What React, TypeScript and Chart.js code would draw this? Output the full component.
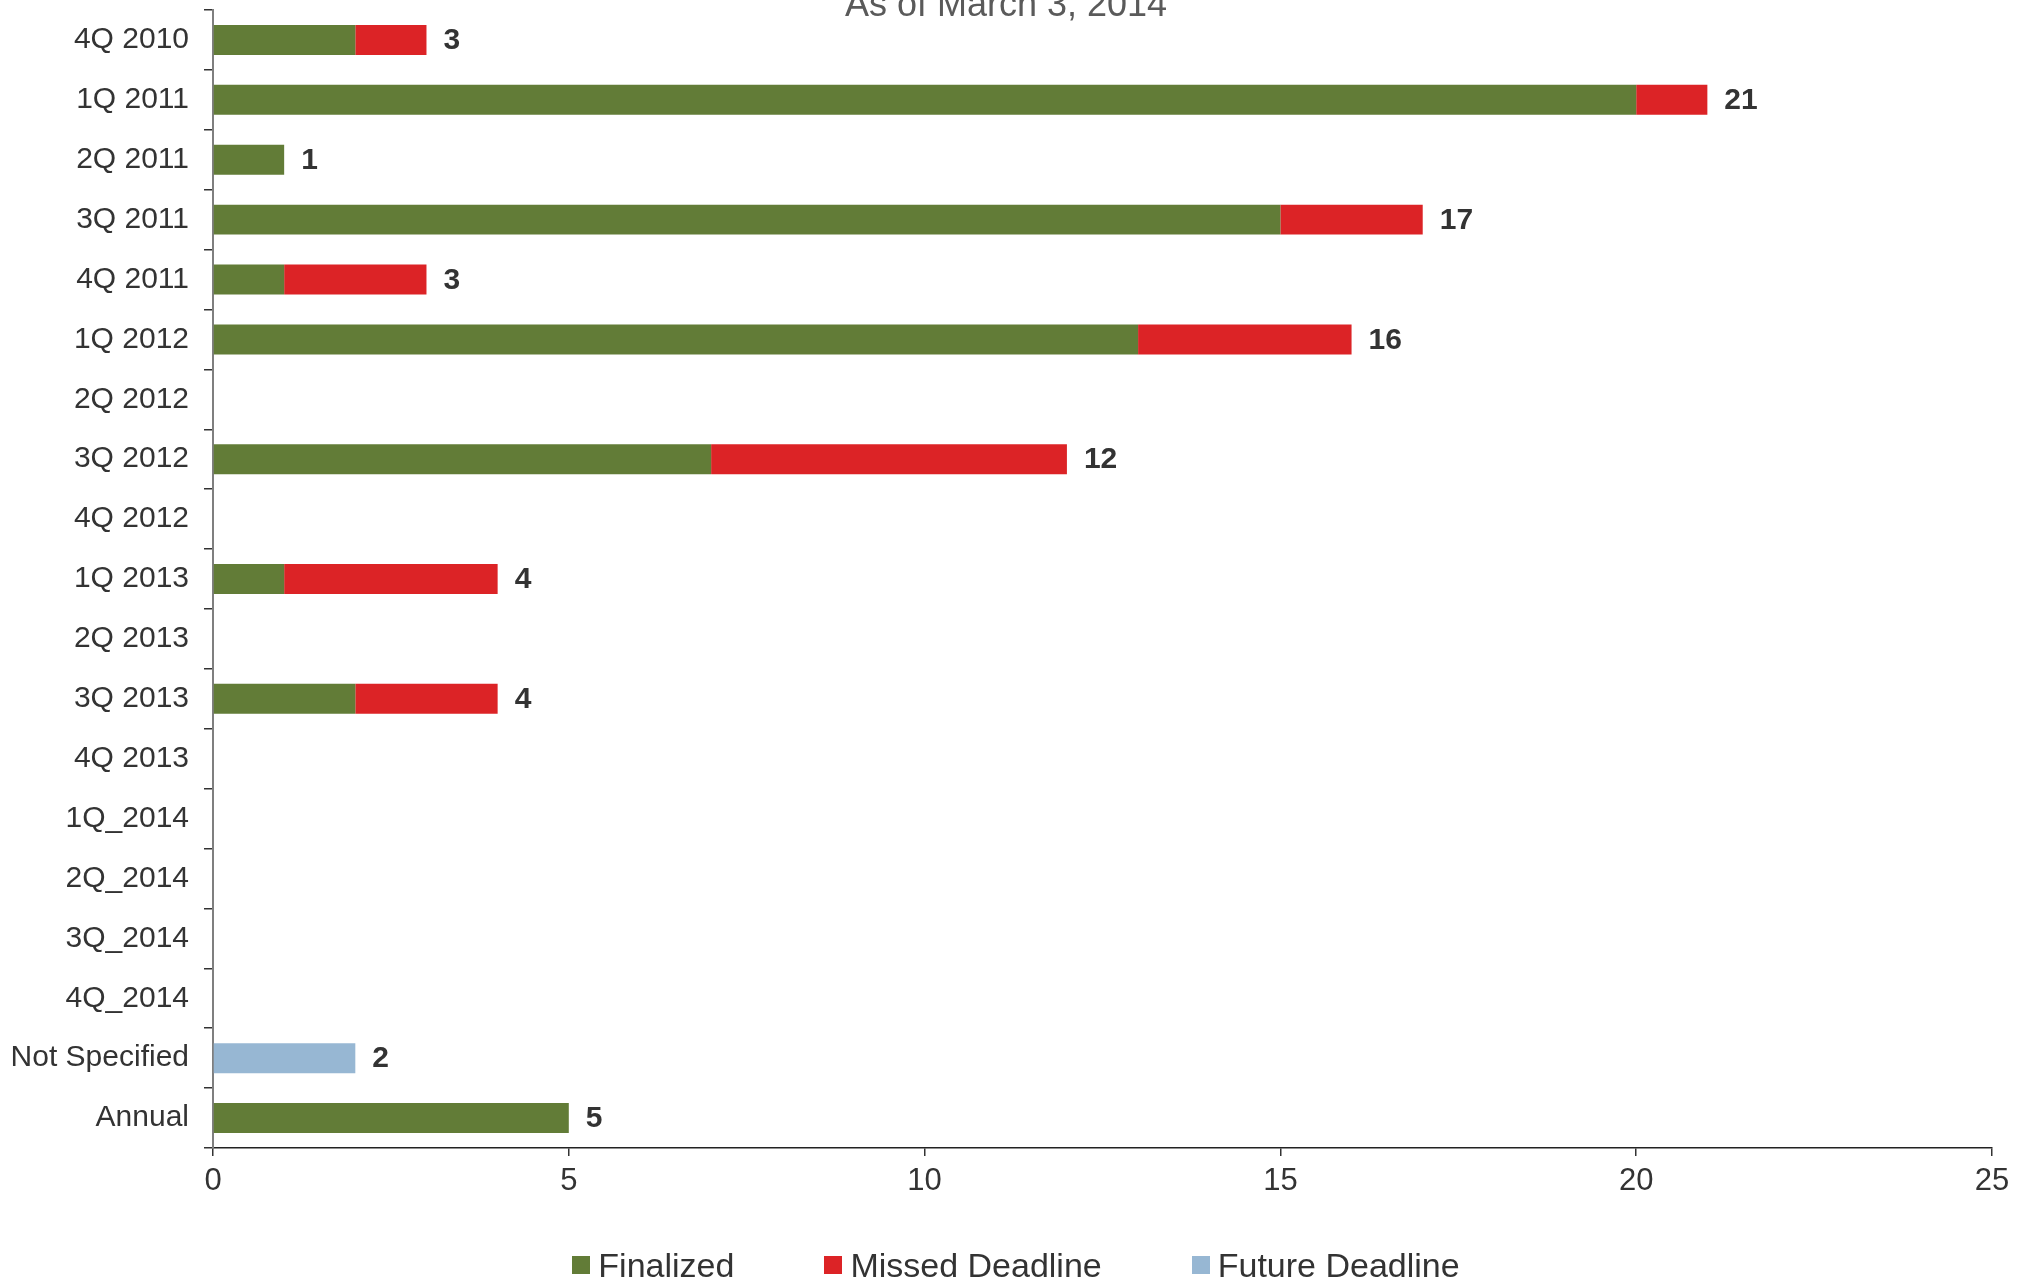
import React, { useEffect, useRef } from "react";
import { Chart, registerables } from "chart.js";

Chart.register(...registerables);

const categories = [
  "4Q 2010", "1Q 2011", "2Q 2011", "3Q 2011", "4Q 2011", "1Q 2012", "2Q 2012",
  "3Q 2012", "4Q 2012", "1Q 2013", "2Q 2013", "3Q 2013", "4Q 2013", "1Q_2014",
  "2Q_2014", "3Q_2014", "4Q_2014", "Not Specified", "Annual",
];
const finalized = [2, 20, 1, 15, 1, 13, 0, 7, 0, 1, 0, 2, 0, 0, 0, 0, 0, 0, 5];
const missedDeadline = [1, 1, 0, 2, 2, 3, 0, 5, 0, 3, 0, 2, 0, 0, 0, 0, 0, 0, 0];
const futureDeadline = [0, 0, 0, 0, 0, 0, 0, 0, 0, 0, 0, 0, 0, 0, 0, 0, 0, 2, 0];
const seriesNames = ["Finalized", "Missed Deadline", "Future Deadline"];
const seriesColors = ["#627C37", "#DC2326", "#97B7D3"];
const xTicks = [0, 5, 10, 15, 20, 25];
const titleText = "As of March 3, 2014";

const FONT = "'Liberation Sans', Arial, Helvetica, sans-serif";

const totalsPlugin = {
  id: "totals",
  afterDatasetsDraw(chart: any) {
    const { ctx, scales } = chart;
    const xs = scales.x;
    const ys = scales.y;
    ctx.save();
    ctx.font = `bold 30px ${FONT}`;
    ctx.fillStyle = "#333333";
    ctx.textAlign = "left";
    ctx.textBaseline = "middle";
    categories.forEach((_, i) => {
      const total = chart.data.datasets.reduce(
        (s: number, d: any) => s + (Number(d.data[i]) || 0),
        0
      );
      if (total > 0) {
        ctx.fillText(String(total), xs.getPixelForValue(total) + 17, ys.getPixelForValue(i) + 1);
      }
    });
    ctx.restore();
  },
};

const titlePlugin = {
  id: "cutTitle",
  afterDraw(chart: any) {
    const { ctx } = chart;
    ctx.save();
    ctx.font = `36px ${FONT}`;
    ctx.fillStyle = "#5A5A5A";
    ctx.textAlign = "center";
    ctx.textBaseline = "alphabetic";
    ctx.fillText(titleText, 1006, 16);
    ctx.restore();
  },
};

export default function App() {
  const canvasRef = useRef<HTMLCanvasElement | null>(null);

  useEffect(() => {
    if (!canvasRef.current) return;
    const chart = new Chart(canvasRef.current, {
      type: "bar",
      data: {
        labels: categories,
        datasets: [finalized, missedDeadline, futureDeadline].map((d, i) => ({
          label: seriesNames[i],
          data: d,
          backgroundColor: seriesColors[i],
          borderWidth: 0,
          barPercentage: 0.5,
          categoryPercentage: 1,
          stack: "s",
        })),
      },
      options: {
        indexAxis: "y",
        responsive: false,
        animation: false,
        devicePixelRatio: 1,
        layout: { padding: { top: 10, left: 4, right: 36, bottom: 88 } },
        plugins: {
          legend: { display: false },
          tooltip: { enabled: false },
          title: { display: false },
        },
        scales: {
          x: {
            type: "linear",
            stacked: true,
            min: 0,
            max: 25,
            afterBuildTicks: (axis: any) => {
              axis.ticks = xTicks.map((v) => ({ value: v }));
            },
            afterFit: (axis: any) => {
              axis.height = 52;
              axis.paddingLeft = 0;
              axis.paddingRight = 0;
            },
            ticks: {
              color: "#333333",
              padding: 7,
              font: { size: 31, family: FONT },
            },
            grid: {
              display: true,
              drawOnChartArea: false,
              drawTicks: true,
              tickLength: 8,
              color: "#333333",
              lineWidth: 1.5,
            },
            border: { display: true, color: "#222222", width: 1.5 },
          },
          y: {
            type: "category",
            stacked: true,
            afterFit: (axis: any) => {
              axis.width = 209;
              axis.paddingTop = 0;
              axis.paddingBottom = 0;
            },
            ticks: {
              color: "#333333",
              padding: 15,
              autoSkip: false,
              font: { size: 30, family: FONT },
            },
            grid: {
              display: true,
              drawOnChartArea: false,
              drawTicks: true,
              tickLength: 9,
              offset: true,
              color: "#333333",
              lineWidth: 1.5,
            },
            border: { display: true, color: "#7F7F7F", width: 2 },
          },
        },
      },
      plugins: [totalsPlugin, titlePlugin],
    } as any);
    return () => chart.destroy();
  }, []);

  return (
    <div
      style={{
        position: "absolute",
        left: 0,
        top: 0,
        width: 2028,
        height: 1288,
        background: "#ffffff",
        overflow: "hidden",
      }}
    >
      <canvas ref={canvasRef} width={2028} height={1288} style={{ display: "block" }} />
      <div
        style={{
          position: "absolute",
          left: 0,
          width: 2032,
          top: 1248,
          height: 34,
          display: "flex",
          justifyContent: "center",
          alignItems: "center",
          gap: 90,
          fontFamily: FONT,
          fontSize: 34,
          lineHeight: "34px",
          color: "#333333",
        }}
      >
        {seriesNames.map((name, i) => (
          <div key={name} style={{ display: "flex", alignItems: "center", gap: 8 }}>
            <span
              style={{
                display: "inline-block",
                width: 18,
                height: 18,
                background: seriesColors[i],
              }}
            />
            <span>{name}</span>
          </div>
        ))}
      </div>
    </div>
  );
}
